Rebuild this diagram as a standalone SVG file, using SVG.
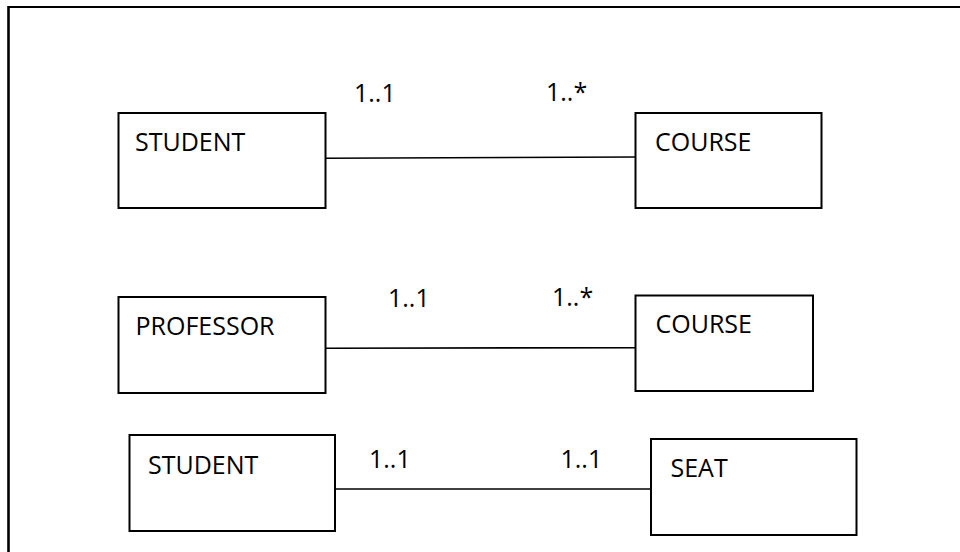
<svg xmlns="http://www.w3.org/2000/svg" width="960" height="552" viewBox="0 0 960 552">
  <style>
    .box { fill: #ffffff; stroke: #000000; stroke-width: 2; }
    .name { font-family: "Open Sans", "Liberation Sans", sans-serif; font-size: 25px; fill: #000000; }
    .mult { font-family: "Open Sans", "Liberation Sans", sans-serif; font-size: 25px; fill: #000000; }
    .link { stroke: #000000; stroke-width: 1.6; fill: none; }
    .frame { stroke: #000000; fill: none; }
  </style>
  <rect width="960" height="552" fill="#ffffff"/>

  <!-- page frame: top and left edges -->
  <g id="frame">
    <line class="frame" x1="8" y1="7" x2="960" y2="7" stroke-width="2.2"/>
    <line class="frame" x1="8.5" y1="6" x2="8.5" y2="552" stroke-width="2.6"/>
  </g>

  <!-- associations -->
  <g id="connectors">
    <line class="link" x1="325" y1="158.3" x2="636" y2="157"/>
    <line class="link" x1="326" y1="348.2" x2="646" y2="347.7"/>
    <line class="link" x1="336" y1="489" x2="655" y2="489"/>
  </g>

  <!-- multiplicities -->
  <g id="labels">
    <text class="mult" x="354" y="101.5">1..1</text>
    <text class="mult" x="546" y="100.5">1..*</text>
    <text class="mult" x="388" y="306.5">1..1</text>
    <text class="mult" x="552" y="305.5">1..*</text>
    <text class="mult" x="369" y="468.3">1..1</text>
    <text class="mult" x="560.5" y="468.3">1..1</text>
  </g>

  <g id="student1">
    <rect class="box" x="118.5" y="113" width="207" height="95"/>
    <text class="name" x="135" y="151">STUDENT</text>
  </g>
  <g id="course1">
    <rect class="box" x="635.5" y="113" width="186" height="95"/>
    <text class="name" x="655" y="150.7">COURSE</text>
  </g>

  <g id="professor">
    <rect class="box" x="118.5" y="297" width="207" height="96"/>
    <text class="name" x="135.5" y="335">PROFESSOR</text>
  </g>
  <g id="course2">
    <rect class="box" x="635.5" y="295.5" width="177.5" height="95.5"/>
    <text class="name" x="655.5" y="333.3">COURSE</text>
  </g>

  <g id="student2">
    <rect class="box" x="129.5" y="435" width="205.5" height="96"/>
    <text class="name" x="148" y="474">STUDENT</text>
  </g>
  <g id="seat">
    <rect class="box" x="651" y="439" width="205.5" height="96"/>
    <text class="name" x="670.5" y="476.7">SEAT</text>
  </g>
</svg>
